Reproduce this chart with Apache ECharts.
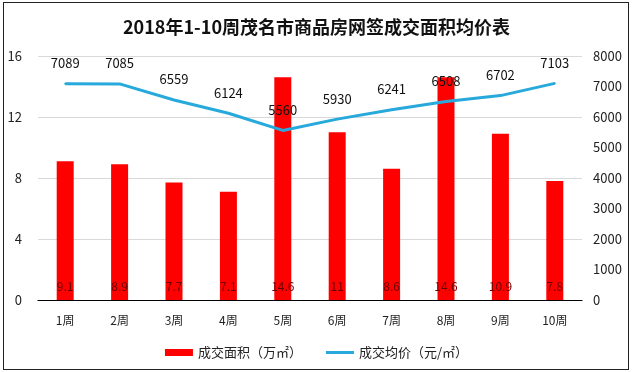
<!DOCTYPE html>
<html><head><meta charset="utf-8">
<script src="https://cdn.jsdelivr.net/npm/echarts@6/dist/echarts.min.js"></script>
<style>
html,body{margin:0;padding:0;background:#fff;}
#frame{position:absolute;left:3px;top:2px;width:624px;height:366px;border:1.5px solid #222;}
#c{position:absolute;left:0;top:0;width:633px;height:372px;}
</style></head>
<body><div id="frame"></div><div id="c"></div>
<script>
const categories = ['1周','2周','3周','4周','5周','6周','7周','8周','9周','10周'];
const areaValues = [9.1, 8.9, 7.7, 7.1, 14.6, 11, 8.6, 14.6, 10.9, 7.8];
const priceValues = [7089, 7085, 6559, 6124, 5560, 5930, 6241, 6508, 6702, 7103];

const font = '"Noto Sans CJK SC", "Microsoft YaHei", sans-serif';
const chart = echarts.init(document.getElementById('c'));
chart.setOption({
  animation: false,
  textStyle: { fontFamily: font },
  title: {
    text: '2018年1-10周茂名市商品房网签成交面积均价表',
    left: 'center', top: 13,
    textStyle: { fontSize: 18, fontWeight: 'bold', color: '#111', fontFamily: font }
  },
  legend: {
    bottom: 8, left: 'center', itemGap: 24,
    itemWidth: 28, itemHeight: 7,
    textStyle: { fontSize: 13, color: '#222', fontFamily: font },
    data: [
      { name: '成交面积（万㎡）', icon: 'rect' },
      { name: '成交均价（元/㎡）', icon: 'path://M0,0 L28,0 L28,3 L0,3 Z', itemStyle: { color: '#27a9dc', opacity: 1 } }
    ]
  },
  grid: { left: 38, right: 51, top: 56, bottom: 72, containLabel: false },
  xAxis: {
    type: 'category', data: categories,
    axisLine: { lineStyle: { color: '#000', width: 1.2 } },
    axisTick: { show: false },
    axisLabel: { color: '#222', fontSize: 12, margin: 14, fontFamily: font }
  },
  yAxis: [
    {
      type: 'value', min: 0, max: 16, interval: 4,
      axisLine: { show: false }, axisTick: { show: false },
      axisLabel: { color: '#222', fontSize: 13, margin: 16, fontFamily: font },
      splitLine: { lineStyle: { color: '#d9d9d9' } }
    },
    {
      type: 'value', min: 0, max: 8000, interval: 1000,
      axisLine: { show: false }, axisTick: { show: false },
      axisLabel: { color: '#222', fontSize: 13, margin: 11, align: 'left', fontFamily: font,
        formatter: v => String(v) },
      splitLine: { show: false }
    }
  ],
  series: [
    {
      name: '成交面积（万㎡）', type: 'bar', data: areaValues, barWidth: 17,
      itemStyle: { color: '#ff0000' },
      label: {
        show: true, position: 'insideBottom', distance: 8,
        color: '#6b0000', fontSize: 12, fontFamily: font
      }
    },
    {
      name: '成交均价（元/㎡）', type: 'line', yAxisIndex: 1, data: priceValues,
      symbol: 'circle', symbolSize: 2, showSymbol: true, smooth: false,
      lineStyle: { color: '#27a9dc', width: 3 },
      itemStyle: { color: '#27a9dc' },
      label: { show: true, position: 'top', distance: 13, color: '#111', fontSize: 13, fontFamily: font },
      labelLayout: { hideOverlap: false },
      z: 3
    }
  ]
});
</script></body></html>
